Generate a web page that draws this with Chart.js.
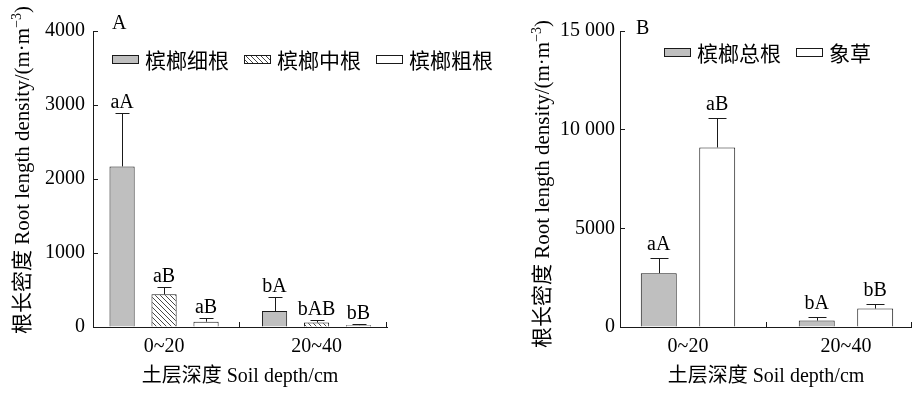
<!DOCTYPE html>
<html>
<head>
<meta charset="utf-8">
<script src="https://cdn.jsdelivr.net/npm/chart.js@4.4.1/dist/chart.umd.min.js"></script>
<style>
  body { margin: 0; background: #fff; width: 912px; height: 396px; overflow: hidden; position: relative; }
  .box { position: absolute; top: 0; height: 396px; }
</style>
</head>
<body>
<div class="box" style="left:0;width:520px"><canvas id="chartA"></canvas></div>
<div class="box" style="left:460px;width:452px"><canvas id="chartB"></canvas></div>
<script>
// ---- data ----
const categories = ['0~20', '20~40'];

// panel A
const seriesA = ['槟榔细根', '槟榔中根', '槟榔粗根'];
const fineRoot = [2170, 216];
const fineRootErr = [720, 185];
const midRoot = [441, 60];
const midRootErr = [104, 32];
const coarseRoot = [72, 25];
const coarseRootErr = [45, 10];
const lettersA = [['aA', 'bA'], ['aB', 'bAB'], ['aB', 'bB']];
const yTicksA = ['0', '1000', '2000', '3000', '4000'];

// panel B
const seriesB = ['槟榔总根', '象草'];
const totalRoot = [2730, 324];
const totalRootErr = [760, 182];
const grass = [9100, 932];
const grassErr = [1480, 233];
const lettersB = [['aA', 'bA'], ['aB', 'bB']];
const yTicksB = ['0', '5000', '10 000', '15 000'];

const yTitle = ['根长密度 Root length density/(m·m', '−3', ')'];
const xTitle = '土层深度 Soil depth/cm';

// ---- styling ----
const family = '"Liberation Serif", "Noto Sans CJK SC", serif';
const cjk = '"Noto Sans CJK SC", "Liberation Serif", sans-serif';
const gray = '#bfbfbf';
const edge = '#1a1a1a';
Chart.defaults.font.family = family;
Chart.defaults.font.size = 20;
Chart.defaults.color = '#000';

function hatch() {
  const c = document.createElement('canvas');
  c.width = 5; c.height = 5;
  const g = c.getContext('2d');
  g.fillStyle = '#fff';
  g.fillRect(0, 0, 5, 5);
  g.strokeStyle = '#333';
  g.lineWidth = 0.9;
  g.beginPath();
  g.moveTo(-1, -1); g.lineTo(6, 6);
  g.moveTo(4, -1); g.lineTo(6, 1);
  g.moveTo(-1, 4); g.lineTo(1, 6);
  g.stroke();
  return g.createPattern(c, 'repeat');
}

function points(values) {
  return values.map((v, i) => ({ x: i + 1, y: v }));
}

// error bars, letters, legend, axis title, inward x ticks
const extras = {
  id: 'extras',
  afterDatasetsDraw(chart, args, o) {
    const ctx = chart.ctx;
    const x = chart.scales.x;
    const y = chart.scales.y;
    ctx.save();
    ctx.strokeStyle = edge;
    ctx.lineWidth = 1;
    ctx.fillStyle = '#000';
    ctx.font = '20px ' + family;
    ctx.textAlign = 'center';
    ctx.textBaseline = 'alphabetic';
    chart.data.datasets.forEach((ds, d) => {
      chart.getDatasetMeta(d).data.forEach((bar, i) => {
        const top = Math.round(y.getPixelForValue(ds.data[i].y + o.errors[d][i])) + 0.5;
        const bx = Math.round(bar.x) + 0.5;
        ctx.beginPath();
        ctx.moveTo(bx, bar.y);
        ctx.lineTo(bx, top);
        ctx.moveTo(bx - o.cap, top);
        ctx.lineTo(bx + o.cap, top);
        ctx.stroke();
        ctx.fillText(o.letters[d][i], bar.x, top - o.gap);
      });
    });

    // x ticks between categories and at the end, pointing up
    ctx.beginPath();
    [1.5, x.max].forEach(v => {
      const px = Math.round(x.getPixelForValue(v)) - 0.5;
      ctx.moveTo(px, x.top);
      ctx.lineTo(px, x.top - 5);
    });
    ctx.stroke();

    // legend
    let lx = o.legend.x;
    const ly = o.legend.y;
    ctx.font = '21px ' + cjk;
    ctx.textAlign = 'left';
    ctx.textBaseline = 'middle';
    chart.data.datasets.forEach(ds => {
      ctx.fillStyle = ds.backgroundColor;
      ctx.fillRect(lx, ly - 4, 26, 8);
      ctx.strokeRect(lx + 0.5, ly - 3.5, 26, 8);
      ctx.fillStyle = '#000';
      ctx.fillText(ds.label, lx + 33, ly + 1);
      lx += 33 + ctx.measureText(ds.label).width + 15;
    });

    // panel letter
    ctx.font = '20px ' + family;
    ctx.fillText(o.panel.text, o.panel.x, o.panel.y);

    // rotated y title with superscript
    ctx.translate(o.title.x, o.title.y);
    ctx.rotate(-Math.PI / 2);
    const big = '21px ' + family;
    const small = '14px ' + family;
    ctx.font = big;
    const w0 = ctx.measureText(yTitle[0]).width;
    const w2 = ctx.measureText(yTitle[2]).width;
    ctx.font = small;
    const w1 = ctx.measureText(yTitle[1]).width;
    let tx = -(w0 + w1 + w2) / 2;
    ctx.textBaseline = 'alphabetic';
    ctx.font = big;
    ctx.fillText(yTitle[0], tx, 7);
    tx += w0;
    ctx.font = small;
    ctx.fillText(yTitle[1], tx, -1);
    tx += w1;
    ctx.font = big;
    ctx.fillText(yTitle[2], tx, 7);
    ctx.restore();
  }
};

function makeOptions(cfg) {
  return {
    responsive: true,
    maintainAspectRatio: false,
    animation: false,
    categoryPercentage: cfg.catPct,
    barPercentage: cfg.barPct,
    layout: { padding: { left: 0, right: cfg.padRight, top: 31, bottom: 0 } },
    plugins: {
      legend: { display: false },
      tooltip: { enabled: false },
      extras: cfg.extras
    },
    scales: {
      x: {
        type: 'linear',
        offset: false,
        min: cfg.xMin,
        max: cfg.xMax,
        afterBuildTicks: s => { s.ticks = categories.map((c, i) => ({ value: i + 1 })); },
        afterFit: s => { s.height = 69; },
        ticks: { padding: 8, callback: v => categories[v - 1] },
        grid: { display: false, drawTicks: false },
        border: { display: true, color: edge, width: 1 },
        title: { display: true, text: xTitle, font: { size: 20 }, padding: { top: 0, bottom: 7 } }
      },
      y: {
        min: 0,
        max: cfg.yMax,
        afterFit: s => { s.width = cfg.yWidth; },
        afterBuildTicks: s => { s.ticks = cfg.yTicks.map((t, i) => ({ value: i * cfg.yStep })); },
        ticks: { padding: cfg.yPad, callback: (v, i) => cfg.yTicks[i] },
        grid: { drawOnChartArea: false, drawTicks: true, tickLength: -5, color: edge },
        border: { display: true, color: edge, width: 1 }
      }
    }
  };
}

const chartA = new Chart(document.getElementById('chartA'), {
  type: 'bar',
  data: {
    datasets: [
      { label: seriesA[0], data: points(fineRoot), backgroundColor: gray, borderColor: edge, borderWidth: 1 },
      { label: seriesA[1], data: points(midRoot), backgroundColor: hatch(), borderColor: edge, borderWidth: 1 },
      { label: seriesA[2], data: points(coarseRoot), backgroundColor: '#fff', borderColor: edge, borderWidth: 1 }
    ]
  },
  options: makeOptions({
    catPct: 0.826, barPct: 0.6, padRight: 133,
    xMin: 0.534, xMax: 2.462,
    yMax: 4000, yStep: 1000, yTicks: yTicksA, yWidth: 93, yPad: 13,
    extras: {
      errors: [fineRootErr, midRootErr, coarseRootErr],
      letters: lettersA, cap: 7, gap: 6,
      legend: { x: 112, y: 59 },
      panel: { text: 'A', x: 112, y: 24 },
      title: { x: 22, y: 170 }
    }
  }),
  plugins: [extras]
});

const chartB = new Chart(document.getElementById('chartB'), {
  type: 'bar',
  data: {
    datasets: [
      { label: seriesB[0], data: points(totalRoot), backgroundColor: gray, borderColor: edge, borderWidth: 1 },
      { label: seriesB[1], data: points(grass), backgroundColor: '#fff', borderColor: edge, borderWidth: 1 }
    ]
  },
  options: makeOptions({
    catPct: 0.74, barPct: 0.615, padRight: 0,
    xMin: 0.5696, xMax: 2.418,
    yMax: 15000, yStep: 5000, yTicks: yTicksB, yWidth: 160, yPad: 10,
    extras: {
      errors: [totalRootErr, grassErr],
      letters: lettersB, cap: 9, gap: 9,
      legend: { x: 204, y: 52 },
      panel: { text: 'B', x: 176, y: 29 },
      title: { x: 82, y: 184 }
    }
  }),
  plugins: [extras]
});
</script>
</body>
</html>
